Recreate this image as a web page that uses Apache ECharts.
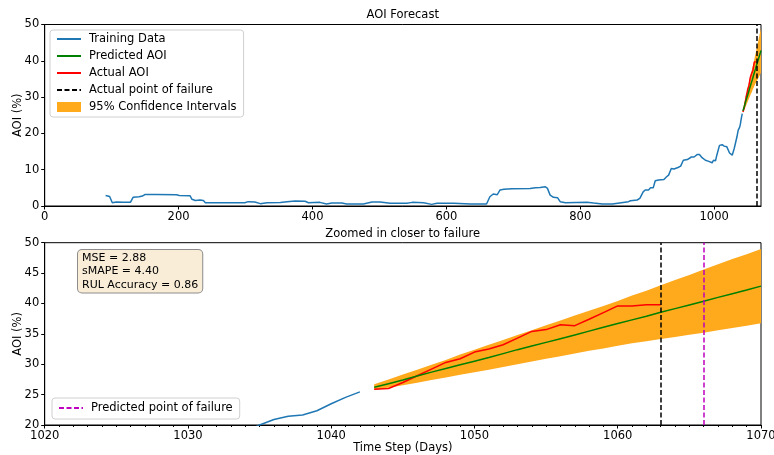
<!DOCTYPE html>
<html><head><meta charset="utf-8">
<script src="https://cdn.jsdelivr.net/npm/echarts@6/dist/echarts.min.js"></script>
<style>html,body{margin:0;padding:0;background:#fff}#c{width:774px;height:455px}</style>
</head><body><div id="c"></div>
<script>
// ---- data ----
const trainingDays = [91,97,101,107,117,128,132,141,146,150,167,197,201,217,220,225,232,237,240,267,299,304,314,322,332,352,362,374,389,394,411,421,429,444,451,476,489,501,516,541,549,566,578,586,611,636,660,665,670,676,680,686,698,725,733,740,748,751,755,760,766,770,778,810,820,833,848,850,872,875,885,889,894,897,902,905,909,912,917,925,929,932,936,940,946,950,954,960,966,970,975,978,982,987,992,997,999,1002,1004,1008,1012,1015,1019,1023,1027,1030,1034,1035,1036,1037,1038,1039,1040,1041,1042];
const trainingAOI = [2.9,2.6,0.9,1.1,1.0,1.0,2.4,2.55,2.75,3.2,3.2,3.1,2.9,2.85,1.85,1.5,1.65,1.5,0.9,0.9,0.9,1.2,1.1,0.65,0.9,0.95,1.2,1.35,1.3,0.9,1.0,0.55,0.8,0.8,0.55,0.55,1.1,1.1,0.75,0.75,1.0,0.9,0.45,0.75,0.75,0.55,0.55,2.55,3.3,3.1,4.4,4.6,4.75,4.85,5.0,5.1,5.3,4.85,3.0,2.4,2.3,1.2,0.9,1.0,0.8,0.55,0.55,1.0,1.2,1.45,1.65,2.1,3.9,4.4,4.4,5.0,5.0,6.95,7.15,7.3,8.05,8.5,10.35,10.2,10.6,11.0,12.6,12.8,13.5,13.5,14.2,14.2,13.3,12.6,12.3,11.9,12.6,12.45,14.0,16.7,16.9,16.5,16.3,14.6,14.0,15.85,19.0,20.0,20.9,21.45,21.65,22.35,23.5,24.55,25.45];
const forecastDays = [1043,1044,1045,1046,1047,1048,1049,1050,1051,1052,1053,1054,1055,1056,1057,1058,1059,1060,1061,1062,1063,1064,1065,1066,1067,1068,1069,1070];
const predictedAOI = [26.2,26.8,27.4,28.05,28.7,29.3,29.9,30.5,31.1,31.75,32.4,33.0,33.6,34.2,34.8,35.45,36.1,36.7,37.3,37.9,38.55,39.15,39.75,40.35,41.0,41.6,42.2,42.85];
const ciUpper = [26.7,27.5,28.3,29.1,29.9,30.7,31.6,32.4,33.2,34.0,34.8,35.6,36.4,37.2,38.0,38.8,39.6,40.4,41.3,42.1,43.0,43.85,44.7,45.6,46.45,47.3,48.1,48.95];
const ciLower = [25.75,26.15,26.55,26.95,27.4,27.8,28.25,28.7,29.1,29.55,30.0,30.45,30.9,31.3,31.75,32.2,32.6,33.05,33.45,33.8,34.15,34.5,34.85,35.2,35.6,35.95,36.35,36.75];
const actualDays = [1043,1044,1045,1046,1047,1048,1049,1050,1051,1052,1053,1054,1055,1056,1057,1058,1059,1060,1061,1062,1063];
const actualAOI = [25.9,26.0,27.0,28.1,29.2,30.3,30.9,32.0,32.5,33.2,34.3,35.4,35.7,36.5,36.35,37.4,38.5,39.6,39.6,39.8,39.8];
const actualFailureDay = 1063;
const predictedFailureDay = 1066;
const metricNames = ['MSE', 'sMAPE', 'RUL Accuracy'];
const metricValues = ['2.88', '4.40', '0.86'];
const topXTicks = [0, 200, 400, 600, 800, 1000];

// ---- build ----
const FONT = 'DejaVu Sans';
const FS = 11.5;
const C_TRAIN = '#1f77b4', C_PRED = '#008000', C_ACT = '#ff0000', C_CI = '#ffa91c', C_MAG = '#bf00bf';
const pairs = (xs, ys) => xs.map((x, i) => [x, ys[i]]);
const trainData = pairs(trainingDays, trainingAOI);
const predData = pairs(forecastDays, predictedAOI);
const actData = pairs(actualDays, actualAOI);
const bandData = forecastDays.map((d, i) => [d, ciLower[i], ciUpper[i]]);

function bandRender(params, api) {
  if (params.dataIndex !== 0) return null;
  const pts = [];
  for (let i = 0; i < forecastDays.length; i++) pts.push(api.coord([forecastDays[i], ciUpper[i]]));
  for (let i = forecastDays.length - 1; i >= 0; i--) pts.push(api.coord([forecastDays[i], ciLower[i]]));
  return { type: 'polygon', shape: { points: pts }, style: { fill: C_CI } };
}

const plain = v => String(v);
const axisCommon = {
  axisLine: { show: true, onZero: false, lineStyle: { color: '#000', width: 1 } },
  axisTick: { show: true, length: 3.5, lineStyle: { color: '#000' } },
  axisLabel: { color: '#000', fontFamily: FONT, fontSize: FS, formatter: plain },
  splitLine: { show: false },
  nameMoveOverlap: false,
  nameTextStyle: { color: '#000', fontFamily: FONT, fontSize: FS }
};

function vline(name, day, color, xi) {
  return {
    name: name, type: 'line', xAxisIndex: xi, yAxisIndex: xi, data: [], symbol: 'none',
    lineStyle: { color: color, type: [5, 2.5], width: 1.5 }, itemStyle: { color: color },
    markLine: {
      silent: true, symbol: ['none', 'none'], label: { show: false }, animation: false,
      lineStyle: { color: color, type: [5, 2.5], width: 1.5 },
      data: [{ xAxis: day }]
    }, z: 5
  };
}

function seriesFor(xi) {
  return [
    { name: '95% Confidence Intervals', type: 'custom', xAxisIndex: xi, yAxisIndex: xi, data: bandData,
      encode: { x: 0, y: [1, 2] }, renderItem: bandRender, itemStyle: { color: C_CI }, clip: true, z: 1 },
    { name: 'Training Data', type: 'line', xAxisIndex: xi, yAxisIndex: xi, data: trainData, symbol: 'none',
      lineStyle: { color: C_TRAIN, width: 1.5 }, itemStyle: { color: C_TRAIN }, clip: true, z: 2 },
    { name: 'Actual AOI', type: 'line', xAxisIndex: xi, yAxisIndex: xi, data: actData, symbol: 'none',
      lineStyle: { color: C_ACT, width: 1.5 }, itemStyle: { color: C_ACT }, clip: true, z: 3 },
    { name: 'Predicted AOI', type: 'line', xAxisIndex: xi, yAxisIndex: xi, data: predData, symbol: 'none',
      lineStyle: { color: C_PRED, width: 1.5 }, itemStyle: { color: C_PRED }, clip: true, z: 4 },
    vline('Actual point of failure', actualFailureDay, '#000', xi)
  ];
}

const series = seriesFor(0).concat(seriesFor(1));
series.push(vline('Predicted point of failure', predictedFailureDay, C_MAG, 1));

const legendCommon = {
  orient: 'vertical', itemWidth: 24, itemHeight: 10, itemGap: 5,
  backgroundColor: '#fff', borderColor: '#d0d0d0', borderWidth: 1, borderRadius: 3,
  itemStyle: { opacity: 0, color: 'rgba(0,0,0,0)', borderWidth: 0 },
  textStyle: { color: '#000', fontFamily: FONT, fontSize: FS, lineHeight: 12, padding: [0, 0, 0, 3] },
  selectedMode: false
};

const metricText = metricNames.map((n, i) => n + ' = ' + metricValues[i]).join('\n');

const option = {
  animation: false,
  backgroundColor: '#fff',
  grid: [
    { left: 44.7, right: 13, top: 24.5, height: 181.5, show: true, borderColor: '#000', borderWidth: 1,
      containLabel: false, outerBoundsMode: 'none' },
    { left: 44.7, right: 13, top: 242.7, height: 182.3, show: true, borderColor: '#000', borderWidth: 1,
      containLabel: false, outerBoundsMode: 'none' }
  ],
  xAxis: [
    Object.assign({}, axisCommon, { type: 'value', gridIndex: 0, min: 0, max: 1070,
      axisTick: Object.assign({}, axisCommon.axisTick, { customValues: topXTicks }),
      axisLabel: Object.assign({}, axisCommon.axisLabel, { customValues: topXTicks, margin: 5 }) }),
    Object.assign({}, axisCommon, { type: 'value', gridIndex: 1, min: 1020, max: 1070, interval: 10,
      name: 'Time Step (Days)', nameLocation: 'middle', nameGap: 17.5,
      axisLabel: Object.assign({}, axisCommon.axisLabel, { margin: 5 }),
      minorTick: { show: true, splitNumber: 10, length: 2, lineStyle: { color: '#000' } } })
  ],
  yAxis: [
    Object.assign({}, axisCommon, { type: 'value', gridIndex: 0, min: 0, max: 50, interval: 10,
      name: 'AOI (%)', nameLocation: 'middle', nameGap: 21,
      axisLabel: Object.assign({}, axisCommon.axisLabel, { margin: 5.5 }) }),
    Object.assign({}, axisCommon, { type: 'value', gridIndex: 1, min: 20, max: 50, interval: 5,
      name: 'AOI (%)', nameLocation: 'middle', nameGap: 21,
      axisLabel: Object.assign({}, axisCommon.axisLabel, { margin: 5.5 }) })
  ],
  legend: [
    Object.assign({}, legendCommon, { left: 50, top: 30, padding: [3, 7, 4, 6],
      data: ['Training Data', 'Predicted AOI', 'Actual AOI', 'Actual point of failure',
        { name: '95% Confidence Intervals', icon: 'rect', itemStyle: { color: C_CI, opacity: 1 } }] }),
    Object.assign({}, legendCommon, { left: 52, top: 398, padding: [4, 7, 5, 6],
      data: ['Predicted point of failure'] })
  ],
  graphic: [
    { type: 'text', x: 402.7, y: 15, style: { text: 'AOI Forecast', align: 'center', verticalAlign: 'middle',
      fill: '#000', font: FS + 'px ' + FONT } },
    { type: 'text', x: 402.7, y: 234, style: { text: 'Zoomed in closer to failure', align: 'center', verticalAlign: 'middle',
      fill: '#000', font: FS + 'px ' + FONT } },
    { type: 'text', x: 78, y: 250, z: 100, style: { text: metricText, fill: '#000', font: '11px ' + FONT,
      lineHeight: 13.5, padding: [1, 4, 1, 4], backgroundColor: '#f9edd8', borderColor: '#8c8c8c', borderWidth: 1, borderRadius: 4 } }
  ],
  series: series
};

const chart = echarts.init(document.getElementById('c'), null, { renderer: 'canvas' });
chart.setOption(option);
</script>
</body></html>
